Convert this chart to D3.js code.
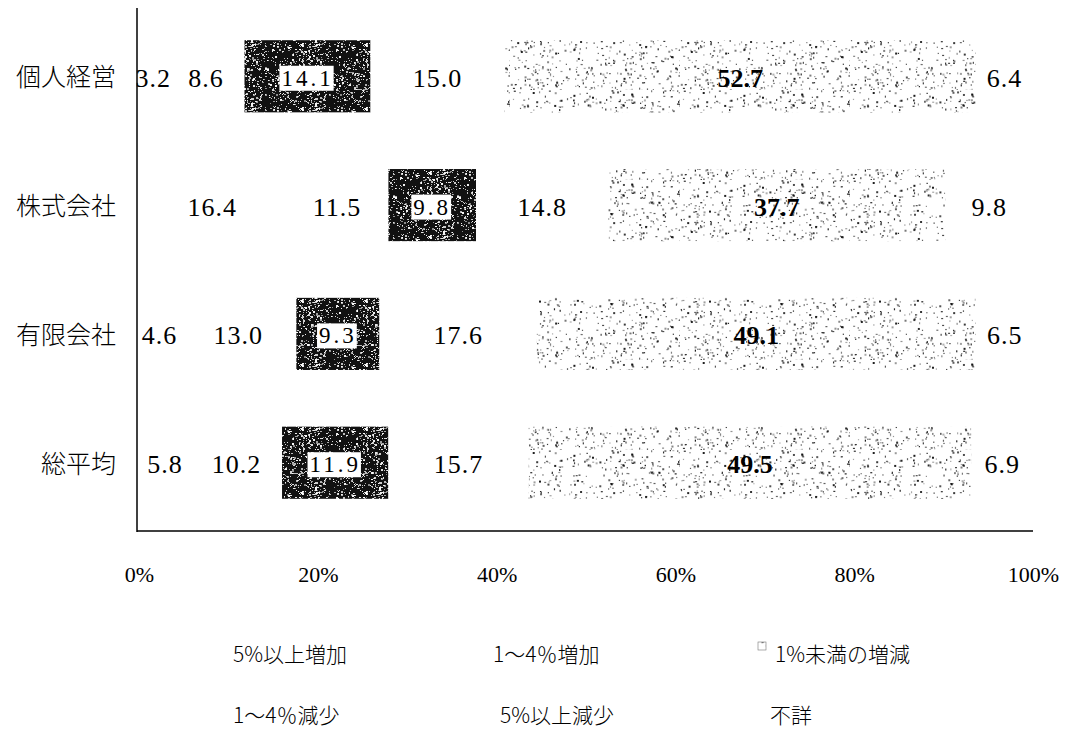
<!DOCTYPE html>
<html>
<head>
<meta charset="utf-8">
<script src="https://cdn.jsdelivr.net/npm/d3@7"></script>
<style>
  body { margin: 0; background: #fff; }
  svg { display: block; }
</style>
</head>
<body>
<div id="chart"></div>
<script>
// ---- data ----
const categories = ['個人経営', '株式会社', '有限会社', '総平均'];
const seriesNames = ['5%以上増加', '1〜4％増加', '1%未満の増減', '1〜4％減少', '5%以上減少', '不詳'];
const inc5 = [3.2, 16.4, 4.6, 5.8];
const inc1to4 = [8.6, 11.5, 13.0, 10.2];
const flat = [14.1, 9.8, 9.3, 11.9];
const dec1to4 = [15.0, 14.8, 17.6, 15.7];
const dec5 = [52.7, 37.7, 49.1, 49.5];
const unknown = [6.4, 9.8, 6.5, 6.9];
const tickValues = [0, 20, 40, 60, 80, 100];

const width = 1067, height = 732;
const keys = ['inc5', 'inc1to4', 'flat', 'dec1to4', 'dec5', 'unknown'];
const rows = categories.map((c, i) => ({
  cat: c, inc5: inc5[i], inc1to4: inc1to4[i], flat: flat[i],
  dec1to4: dec1to4[i], dec5: dec5[i], unknown: unknown[i]
}));

const svg = d3.select('#chart').append('svg')
  .attr('width', width).attr('height', height);

// ---- textures (scanned-print look), seeded so every run is the same ----
const rnd = d3.randomUniform.source(d3.randomLcg(0.37))(0, 1);
const defs = svg.append('defs');

const dark = defs.append('pattern').attr('id', 'dark')
  .attr('patternUnits', 'userSpaceOnUse').attr('width', 64).attr('height', 64);
dark.append('rect').attr('width', 64).attr('height', 64).attr('fill', '#111');
for (let k = 0; k < 560; k++) {
  const s = rnd() < 0.7 ? 1 : 2;
  dark.append('rect')
    .attr('x', Math.floor(rnd() * 64)).attr('y', Math.floor(rnd() * 64))
    .attr('width', s).attr('height', rnd() < 0.5 ? s : 1)
    .attr('fill', '#fff').attr('opacity', 0.5 + rnd() * 0.5);
}

const speck = defs.append('pattern').attr('id', 'speck')
  .attr('patternUnits', 'userSpaceOnUse').attr('width', 170).attr('height', 90);
for (let k = 0; k < 560; k++) {
  speck.append('rect')
    .attr('x', rnd() * 170).attr('y', rnd() * 90)
    .attr('width', rnd() < 0.6 ? 1.2 : 2).attr('height', rnd() < 0.6 ? 1.2 : 2)
    .attr('fill', '#000').attr('opacity', 0.3 + rnd() * 0.6);
}

const fills = {
  inc5: '#fff', inc1to4: '#fff', flat: 'url(#dark)',
  dec1to4: '#fff', dec5: 'url(#speck)', unknown: '#fff'
};

// ---- scales ----
const x = d3.scaleLinear().domain([0, 100]).range([139, 1033]);
const y = d3.scaleBand().domain(categories).range([8, 531]).paddingInner(0.44).paddingOuter(0.25);

const stacked = d3.stack().keys(keys)(rows);

const serif = '"Liberation Serif", "DejaVu Serif", serif';
const jp = '"Noto Sans CJK JP", sans-serif';

// ---- bars ----
const layer = svg.append('g').selectAll('g').data(stacked).join('g')
  .attr('fill', d => fills[d.key]);

layer.selectAll('rect').data(d => d).join('rect')
  .attr('x', d => x(d[0]))
  .attr('y', d => y(d.data.cat))
  .attr('width', d => x(d[1]) - x(d[0]))
  .attr('height', y.bandwidth());

// ---- value labels ----
stacked.forEach(s => {
  s.forEach(d => {
    const cx = (x(d[0]) + x(d[1])) / 2;
    const cy = y(d.data.cat) + y.bandwidth() / 2 + 2;
    const val = d.data[s.key].toFixed(1);
    const g = svg.append('g');
    const t = g.append('text')
      .attr('x', cx).attr('y', cy)
      .attr('text-anchor', 'middle').attr('dominant-baseline', 'central')
      .attr('font-family', serif).attr('font-size', 26)
      .attr('letter-spacing', 1)
      .attr('fill', '#000')
      .text(val);
    if (s.key === 'flat') {
      t.attr('letter-spacing', 3).attr('font-size', 23);
      const b = t.node().getBBox();
      g.insert('rect', 'text')
        .attr('x', b.x - 2).attr('y', b.y)
        .attr('width', b.width + 2).attr('height', b.height)
        .attr('fill', '#fff');
    }
    if (s.key === 'dec5') {
      t.attr('font-weight', 'bold').attr('letter-spacing', 0);
    }
  });
});

// ---- axes ----
svg.append('line').attr('x1', 137).attr('x2', 137).attr('y1', 8).attr('y2', 532)
  .attr('stroke', '#000').attr('stroke-width', 1.5);
svg.append('line').attr('x1', 137).attr('x2', x(100)).attr('y1', 531).attr('y2', 531)
  .attr('stroke', '#000').attr('stroke-width', 1.5);

const xAxis = svg.append('g').attr('transform', 'translate(0,531)')
  .call(d3.axisBottom(x).tickValues(tickValues).tickSize(0).tickPadding(35)
    .tickFormat(d => d + '%'));
xAxis.select('.domain').remove();
xAxis.selectAll('text').attr('font-family', serif).attr('font-size', 22).attr('fill', '#000');

const yAxis = svg.append('g').attr('transform', 'translate(116,2)')
  .call(d3.axisLeft(y).tickSize(0).tickPadding(0));
yAxis.select('.domain').remove();
yAxis.selectAll('text').attr('font-family', jp).attr('font-size', 25)
  .attr('font-weight', 300).attr('fill', '#000');

// ---- legend (2 rows x 3) ----
const legendPos = [
  [233, 653], [493, 653], [775, 653],
  [233, 714], [500, 714], [770, 714]
];
const legend = svg.append('g').selectAll('g').data(seriesNames).join('g')
  .attr('transform', (d, i) => `translate(${legendPos[i][0]},${legendPos[i][1]})`);
legend.append('rect')
  .attr('x', -17).attr('y', -11).attr('width', 8).attr('height', 8)
  .attr('fill', (d, i) => i === 2 ? 'url(#speck)' : '#fff')
  .attr('stroke', (d, i) => i === 2 ? '#777' : 'none').attr('stroke-width', 0.6);
legend.append('text')
  .attr('dominant-baseline', 'central')
  .attr('font-family', jp).attr('font-size', 21).attr('font-weight', 300)
  .attr('fill', '#000')
  .text(d => d);
</script>
</body>
</html>
